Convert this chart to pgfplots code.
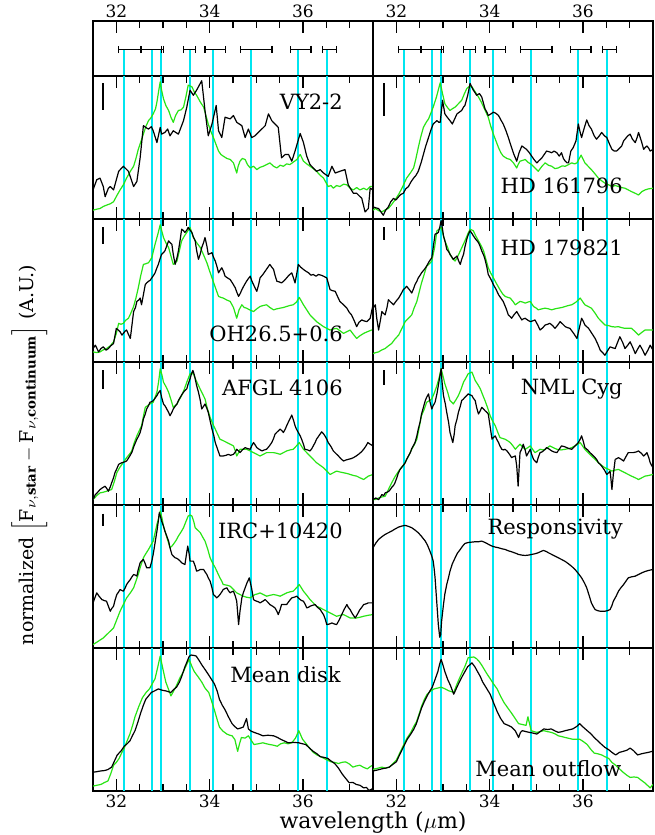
\documentclass[border=0pt]{standalone}
\usepackage{fontspec}
\setmainfont{DejaVu Serif}
\usepackage{pgfplots}
\pgfplotsset{compat=1.18}
\definecolor{cy}{RGB}{0,230,240}
\definecolor{gr}{RGB}{40,228,20}

\pgfplotsset{
  base/.style={scale only axis, width=140pt, xmin=31.5, xmax=37.5, ytick=\empty,
    xtick={32,34,36}, minor xtick={31.5,32,...,37.5}, tick align=inside,
    major tick length=6pt, minor tick length=3.5pt,
    tick style={black, line width=0.6pt}, axis line style={line width=0.9pt},
    anchor=south west, /pgf/number format/assume math mode=true,
    ticklabel style={font=\fontsize{8.5}{10}\selectfont, inner sep=1.5pt}},
  spec/.style={base, height=71.5pt, xtick pos=both,
    extra x ticks={32.17,32.77,32.96,33.58,34.08,34.88,35.90,36.51},
    extra x tick labels={},
    extra x tick style={grid=major, major grid style={cy, line width=1pt},
      major tick length=0pt, minor tick length=0pt}},
  nolab/.style={xticklabels={}},
  blk/.style={black, line width=0.6pt, line join=round},
  grn/.style={gr, line width=0.6pt, line join=round},
}
\tikzset{lab/.style={anchor=east, font=\fontsize{10.5}{12}\selectfont}}

\begin{document}
\begin{tikzpicture}
\path[use as bounding box] (-46.5pt,-22pt) rectangle (280.5pt,395.5pt);

% ---- top panels: bands
\foreach \cx in {0pt,140pt}{
\begin{axis}[base, height=27.5pt, at={(\cx,357.5pt)}, ymin=0, ymax=1,
    xtick pos=right, xticklabel pos=right]
  \addplot[cy, line width=1pt, ycomb, mark=none] coordinates {
    (32.17,0.48) (32.77,0.48) (32.96,0.48) (33.58,0.48) (34.08,0.48) (34.88,0.48) (35.90,0.48) (36.51,0.48)};
  \addplot[draw=none, mark=none, error bars/.cd, x dir=both, x explicit, error mark=|,
      error bar style={draw=black, line width=0.6pt},
      error mark options={draw=black, mark size=1.8pt, line width=0.6pt}]
    coordinates {
    (32.28,0.48) +- (0.23,0) (32.75,0.48) +- (0.22,0) (32.985,0.48) +- (0.02,0)
    (33.565,0.48) +- (0.125,0) (34.12,0.48) +- (0.22,0) (35.0,0.48) +- (0.335,0)
    (35.955,0.48) +- (0.215,0) (36.56,0.48) +- (0.15,0)};
\end{axis}
}

% ---- row 1
\begin{axis}[spec, nolab, at={(0,286pt)}, y dir=reverse, ymin=18, ymax=441]
  \addplot[grn] coordinates {(31.5,415) (31.58,412) (31.65,410) (31.72,404) (31.79,400) (31.87,396) (31.94,390) (32.01,372) (32.08,355) (32.15,340) (32.22,320) (32.3,300) (32.37,285) (32.42,262) (32.47,235) (32.52,215) (32.58,190) (32.64,165) (32.69,150) (32.74,142) (32.79,130) (32.84,115) (32.87,95) (32.91,60) (32.94,35) (32.97,60) (33.01,85) (33.06,105) (33.12,120) (33.17,140) (33.22,155) (33.27,135) (33.33,120) (33.39,118) (33.44,110) (33.49,80) (33.54,45) (33.62,50) (33.67,65) (33.72,75) (33.8,95) (33.87,110) (33.92,135) (33.97,160) (34.02,180) (34.08,200) (34.14,222) (34.19,240) (34.24,250) (34.29,255) (34.37,262) (34.44,265) (34.51,275) (34.58,305) (34.61,285) (34.65,270) (34.7,262) (34.76,265) (34.81,280) (34.87,290) (34.94,285) (35.01,295) (35.08,288) (35.15,285) (35.22,280) (35.29,275) (35.37,285) (35.44,290) (35.51,282) (35.58,285) (35.65,278) (35.72,280) (35.8,272) (35.87,265) (35.94,250) (36.01,270) (36.08,278) (36.15,285) (36.22,292) (36.29,300) (36.37,312) (36.44,320) (36.5,335) (36.54,345) (36.6,342) (36.65,350) (36.72,342) (36.79,345) (36.87,338) (36.94,340) (37.01,350) (37.08,355) (37.15,348) (37.22,355) (37.3,350) (37.37,355) (37.44,345) (37.5,345)};
  \addplot[blk] coordinates {(31.5,355) (31.58,325) (31.65,320) (31.72,345) (31.76,375) (31.83,350) (31.87,345) (31.94,355) (32.01,320) (32.05,300) (32.15,285) (32.26,300) (32.37,345) (32.44,330) (32.51,260) (32.58,165) (32.65,172) (32.69,175) (32.75,168) (32.79,180) (32.87,215) (32.94,170) (32.97,190) (33.04,185) (33.1,175) (33.15,195) (33.22,180) (33.33,190) (33.44,150) (33.51,110) (33.58,60) (33.65,75) (33.72,60) (33.83,32) (33.9,120) (33.97,195) (34.05,160) (34.14,105) (34.19,180) (34.26,200) (34.33,140) (34.44,145) (34.51,135) (34.58,155) (34.69,165) (34.76,200) (34.83,175) (34.9,200) (34.97,195) (35.08,180) (35.19,165) (35.26,130) (35.33,150) (35.4,160) (35.47,170) (35.54,260) (35.62,250) (35.69,250) (35.76,270) (35.83,240) (35.94,188) (36.01,215) (36.08,255) (36.15,280) (36.22,290) (36.29,300) (36.37,295) (36.44,305) (36.54,315) (36.62,285) (36.69,305) (36.79,300) (36.9,295) (36.97,340) (37.08,365) (37.15,365) (37.26,380) (37.33,420) (37.4,410) (37.44,350) (37.5,355)};
  \addplot[black, line width=1pt] coordinates {(31.72,40) (31.72,120)};
  \node[lab] at (axis description cs:0.917,0.82) {VY2-2};
\end{axis}

\begin{axis}[spec, nolab, at={(140pt,286pt)}, y dir=reverse, ymin=18, ymax=441]
  \addplot[grn] coordinates {(31.5,415) (31.55,410) (31.62,416) (31.69,420) (31.76,414) (31.83,410) (31.9,398) (31.97,385) (32.05,368) (32.12,350) (32.22,320) (32.3,305) (32.37,290) (32.42,262) (32.47,230) (32.52,200) (32.58,170) (32.64,155) (32.69,145) (32.74,128) (32.79,110) (32.86,80) (32.94,38) (32.99,70) (33.04,100) (33.1,112) (33.15,120) (33.2,115) (33.26,110) (33.33,100) (33.4,90) (33.46,70) (33.51,55) (33.57,48) (33.62,50) (33.69,65) (33.76,80) (33.82,95) (33.87,110) (33.92,125) (33.97,140) (34.02,165) (34.08,190) (34.14,212) (34.19,230) (34.24,245) (34.29,255) (34.37,262) (34.44,265) (34.51,275) (34.58,290) (34.61,280) (34.65,270) (34.7,268) (34.76,265) (34.83,274) (34.9,280) (34.97,290) (35.04,300) (35.12,285) (35.19,275) (35.26,282) (35.33,285) (35.4,292) (35.47,290) (35.55,284) (35.62,285) (35.69,280) (35.76,275) (35.82,278) (35.87,275) (35.96,252) (36.04,275) (36.11,285) (36.18,295) (36.26,308) (36.33,320) (36.4,328) (36.47,335) (36.55,340) (36.62,345) (36.69,342) (36.76,345) (36.83,348) (36.9,350) (36.97,355) (37.04,360) (37.12,365) (37.19,370) (37.26,360) (37.33,355) (37.4,352) (37.5,350)};
  \addplot[blk] coordinates {(31.5,405) (31.56,408) (31.62,410) (31.67,420) (31.72,430) (31.77,415) (31.83,405) (31.88,390) (31.94,380) (31.99,385) (32.05,375) (32.1,368) (32.15,365) (32.2,352) (32.26,345) (32.31,332) (32.37,320) (32.42,312) (32.47,300) (32.53,275) (32.58,250) (32.63,225) (32.69,200) (32.74,178) (32.79,160) (32.83,155) (32.87,150) (32.91,155) (32.94,155) (32.99,90) (33.04,130) (33.08,138) (33.12,145) (33.16,152) (33.2,160) (33.25,145) (33.3,130) (33.35,125) (33.4,120) (33.44,110) (33.47,105) (33.53,75) (33.58,40) (33.65,60) (33.69,68) (33.72,75) (33.78,70) (33.83,80) (33.87,100) (33.9,115) (33.94,125) (33.97,135) (34.03,130) (34.08,125) (34.13,128) (34.19,135) (34.24,148) (34.29,160) (34.35,180) (34.4,200) (34.47,230) (34.52,250) (34.58,270) (34.63,245) (34.69,225) (34.74,230) (34.79,235) (34.85,245) (34.9,255) (34.95,265) (35.01,275) (35.06,268) (35.12,260) (35.17,250) (35.22,240) (35.27,242) (35.33,245) (35.38,240) (35.44,245) (35.49,255) (35.54,245) (35.58,262) (35.62,270) (35.66,275) (35.69,275) (35.74,240) (35.79,230) (35.85,210) (35.9,160) (35.94,185) (35.97,200) (36.02,175) (36.08,148) (36.13,165) (36.18,175) (36.24,195) (36.29,205) (36.35,195) (36.4,185) (36.46,195) (36.51,200) (36.57,220) (36.62,235) (36.67,240) (36.72,240) (36.78,232) (36.83,225) (36.87,210) (36.9,205) (36.96,195) (37.01,190) (37.06,205) (37.12,215) (37.16,200) (37.19,185) (37.25,210) (37.3,235) (37.33,230) (37.37,225) (37.41,232) (37.44,240) (37.5,235)};
  \addplot[black, line width=1pt] coordinates {(31.745,40) (31.745,135)};
  \node[lab] at (axis description cs:0.917,0.23) {HD 161796};
\end{axis}

% ---- row 2
\begin{axis}[spec, nolab, at={(0,214.5pt)}, y dir=reverse, ymin=55, ymax=480]
  \addplot[grn] coordinates {(31.5,450) (31.58,452) (31.65,450) (31.72,444) (31.79,440) (31.87,432) (31.94,420) (32.0,395) (32.05,365) (32.1,368) (32.15,365) (32.2,356) (32.26,350) (32.31,335) (32.37,315) (32.42,290) (32.47,260) (32.52,225) (32.58,190) (32.63,188) (32.69,185) (32.76,170) (32.83,130) (32.89,100) (32.94,72) (33.01,110) (33.07,128) (33.12,140) (33.17,165) (33.22,190) (33.3,180) (33.35,150) (33.4,120) (33.46,105) (33.51,95) (33.58,80) (33.65,110) (33.72,125) (33.8,140) (33.87,162) (33.94,185) (34.0,210) (34.05,230) (34.12,258) (34.19,285) (34.24,288) (34.29,290) (34.37,296) (34.44,300) (34.51,318) (34.58,350) (34.63,325) (34.69,310) (34.74,318) (34.79,320) (34.87,326) (34.94,330) (35.01,322) (35.08,315) (35.15,312) (35.22,310) (35.29,318) (35.37,325) (35.44,322) (35.51,320) (35.58,318) (35.65,315) (35.72,312) (35.79,310) (35.86,302) (35.92,288) (36.01,310) (36.08,325) (36.15,340) (36.22,350) (36.29,360) (36.37,368) (36.44,375) (36.51,380) (36.58,385) (36.65,382) (36.72,380) (36.8,388) (36.87,395) (36.94,390) (37.01,385) (37.08,398) (37.15,410) (37.22,402) (37.3,395) (37.38,390) (37.47,385) (37.5,385)};
  \addplot[blk] coordinates {(31.5,440) (31.55,430) (31.62,450) (31.67,440) (31.72,435) (31.78,445) (31.83,440) (31.88,432) (31.94,425) (32.0,380) (32.04,385) (32.08,390) (32.12,400) (32.15,395) (32.19,388) (32.22,385) (32.26,398) (32.3,410) (32.37,330) (32.41,318) (32.44,300) (32.48,296) (32.51,290) (32.54,310) (32.58,280) (32.62,250) (32.65,245) (32.69,240) (32.72,238) (32.76,230) (32.8,222) (32.83,215) (32.87,200) (32.9,190) (32.94,172) (32.97,160) (33.01,155) (33.04,150) (33.08,135) (33.12,120) (33.15,125) (33.19,130) (33.22,160) (33.26,190) (33.3,170) (33.33,150) (33.37,115) (33.4,85) (33.44,90) (33.47,95) (33.51,88) (33.54,80) (33.58,88) (33.62,95) (33.65,108) (33.69,120) (33.72,148) (33.76,175) (33.8,158) (33.83,140) (33.87,125) (33.9,110) (33.94,135) (33.97,160) (34.01,158) (34.05,155) (34.08,168) (34.12,180) (34.16,198) (34.19,215) (34.22,208) (34.26,200) (34.3,212) (34.33,225) (34.38,230) (34.44,235) (34.5,248) (34.55,260) (34.58,272) (34.62,285) (34.66,275) (34.69,265) (34.74,252) (34.79,240) (34.83,232) (34.87,225) (34.9,238) (34.94,250) (34.98,262) (35.01,270) (35.05,250) (35.08,230) (35.14,220) (35.19,210) (35.24,200) (35.29,190) (35.33,198) (35.37,205) (35.4,222) (35.44,240) (35.49,242) (35.54,245) (35.6,238) (35.65,230) (35.7,222) (35.76,215) (35.8,232) (35.83,245) (35.87,215) (35.9,190) (35.95,198) (36.01,205) (36.06,210) (36.12,215) (36.17,222) (36.22,220) (36.28,225) (36.33,220) (36.39,222) (36.44,225) (36.48,228) (36.51,230) (36.55,250) (36.58,265) (36.63,268) (36.69,270) (36.74,285) (36.79,300) (36.87,310) (36.94,320) (36.99,332) (37.04,340) (37.1,358) (37.15,375) (37.2,362) (37.26,355) (37.31,358) (37.37,360) (37.44,350) (37.47,330) (37.5,310)};
  \addplot[black, line width=1pt] coordinates {(31.72,80) (31.72,130)};
  \node[lab] at (axis description cs:0.917,0.2) {OH26.5+0.6};
\end{axis}

\begin{axis}[spec, nolab, at={(140pt,214.5pt)}, y dir=reverse, ymin=55, ymax=480]
  \addplot[grn] coordinates {(31.5,455) (31.56,452) (31.62,450) (31.69,444) (31.76,440) (31.83,432) (31.9,425) (31.97,412) (32.05,400) (32.12,380) (32.19,360) (32.26,350) (32.33,340) (32.38,320) (32.44,300) (32.49,272) (32.54,245) (32.6,218) (32.65,195) (32.71,188) (32.76,180) (32.82,140) (32.87,90) (32.92,85) (32.96,80) (33.0,100) (33.04,120) (33.1,140) (33.15,160) (33.2,172) (33.26,180) (33.32,165) (33.37,150) (33.42,135) (33.47,120) (33.53,100) (33.58,85) (33.65,90) (33.7,105) (33.76,120) (33.82,135) (33.87,150) (33.92,175) (33.97,200) (34.02,215) (34.08,230) (34.15,248) (34.22,265) (34.28,278) (34.33,285) (34.39,288) (34.44,290) (34.5,300) (34.55,310) (34.6,305) (34.65,300) (34.71,302) (34.76,305) (34.82,302) (34.87,300) (34.94,315) (35.0,320) (35.04,325) (35.12,322) (35.19,320) (35.26,322) (35.33,325) (35.4,322) (35.47,320) (35.55,318) (35.62,315) (35.69,312) (35.76,310) (35.85,302) (35.94,290) (36.04,310) (36.11,315) (36.18,320) (36.26,335) (36.33,350) (36.4,360) (36.47,370) (36.55,372) (36.62,375) (36.69,376) (36.76,375) (36.83,378) (36.9,380) (36.97,380) (37.04,380) (37.12,390) (37.19,400) (37.26,392) (37.33,385) (37.41,385) (37.5,385)};
  \addplot[blk] coordinates {(31.5,320) (31.55,310) (31.58,350) (31.62,385) (31.66,355) (31.69,330) (31.72,335) (31.76,340) (31.8,318) (31.83,295) (31.88,302) (31.94,310) (31.99,300) (32.05,290) (32.1,278) (32.15,265) (32.19,260) (32.22,255) (32.28,265) (32.33,275) (32.37,262) (32.4,250) (32.44,240) (32.47,230) (32.51,222) (32.54,215) (32.6,205) (32.65,195) (32.7,182) (32.76,170) (32.8,130) (32.83,100) (32.87,98) (32.9,95) (32.93,80) (32.96,60) (32.99,85) (33.01,105) (33.05,125) (33.08,145) (33.12,152) (33.15,160) (33.19,168) (33.22,175) (33.26,170) (33.3,165) (33.33,178) (33.37,190) (33.4,175) (33.44,160) (33.47,138) (33.51,115) (33.54,102) (33.58,90) (33.62,98) (33.65,105) (33.7,115) (33.76,125) (33.8,138) (33.83,150) (33.87,162) (33.9,175) (33.94,198) (33.97,220) (34.03,235) (34.08,250) (34.14,265) (34.19,280) (34.24,290) (34.29,300) (34.35,320) (34.4,340) (34.44,345) (34.47,350) (34.52,340) (34.58,330) (34.63,342) (34.69,355) (34.72,352) (34.76,350) (34.81,355) (34.87,360) (34.92,358) (34.97,355) (35.03,370) (35.08,385) (35.14,378) (35.19,370) (35.24,368) (35.29,365) (35.35,372) (35.4,380) (35.46,370) (35.51,360) (35.57,368) (35.62,375) (35.67,378) (35.72,380) (35.8,395) (35.87,410) (35.92,380) (35.97,350) (36.01,360) (36.04,370) (36.08,375) (36.12,380) (36.19,395) (36.26,410) (36.32,428) (36.37,445) (36.42,452) (36.47,460) (36.52,448) (36.58,435) (36.64,438) (36.69,440) (36.74,422) (36.79,405) (36.85,422) (36.9,440) (36.96,430) (37.01,420) (37.07,438) (37.12,455) (37.17,442) (37.22,430) (37.28,445) (37.33,460) (37.39,445) (37.44,430) (37.5,445)};
  \addplot[black, line width=1pt] coordinates {(31.745,80) (31.745,118)};
  \node[lab] at (axis description cs:0.917,0.8) {HD 179821};
\end{axis}

% ---- row 3
\begin{axis}[spec, nolab, at={(0,143pt)}, y dir=reverse, ymin=60, ymax=486]
  \addplot[grn] coordinates {(31.5,470) (31.58,458) (31.65,450) (31.72,448) (31.79,445) (31.85,442) (31.9,440) (31.96,415) (32.01,390) (32.07,375) (32.12,365) (32.17,355) (32.22,345) (32.28,335) (32.33,325) (32.38,302) (32.44,280) (32.49,265) (32.54,250) (32.58,222) (32.62,195) (32.67,190) (32.72,185) (32.79,180) (32.83,165) (32.87,150) (32.91,115) (32.94,80) (32.98,100) (33.01,120) (33.07,135) (33.12,150) (33.17,172) (33.22,195) (33.26,190) (33.3,185) (33.35,172) (33.4,160) (33.46,140) (33.51,120) (33.58,95) (33.65,95) (33.7,112) (33.76,130) (33.83,150) (33.9,170) (33.95,198) (34.01,225) (34.06,242) (34.12,260) (34.17,275) (34.22,290) (34.3,295) (34.37,300) (34.44,305) (34.51,310) (34.55,325) (34.58,340) (34.62,330) (34.65,320) (34.72,320) (34.79,320) (34.87,325) (34.94,330) (35.01,335) (35.08,340) (35.15,335) (35.22,330) (35.3,330) (35.37,330) (35.44,332) (35.51,335) (35.58,330) (35.65,325) (35.72,322) (35.79,320) (35.86,310) (35.92,300) (36.01,320) (36.08,330) (36.15,340) (36.22,350) (36.29,360) (36.37,368) (36.44,375) (36.51,385) (36.58,395) (36.65,390) (36.72,385) (36.8,388) (36.87,390) (36.94,392) (37.01,395) (37.08,398) (37.15,400) (37.22,405) (37.3,410) (37.35,405) (37.4,400) (37.5,395)};
  \addplot[blk] coordinates {(31.5,470) (31.55,455) (31.6,448) (31.65,440) (31.7,435) (31.76,430) (31.8,438) (31.83,445) (31.87,432) (31.9,420) (31.94,405) (31.97,390) (32.01,378) (32.05,365) (32.09,362) (32.12,360) (32.17,358) (32.22,355) (32.28,342) (32.33,330) (32.38,310) (32.44,290) (32.48,280) (32.51,270) (32.55,250) (32.58,230) (32.62,215) (32.65,200) (32.69,190) (32.72,180) (32.76,178) (32.79,175) (32.83,168) (32.87,160) (32.9,152) (32.94,145) (32.97,165) (33.01,185) (33.05,192) (33.08,200) (33.12,210) (33.15,220) (33.19,210) (33.22,200) (33.26,192) (33.3,185) (33.33,175) (33.37,165) (33.4,158) (33.44,150) (33.47,145) (33.51,140) (33.54,125) (33.58,110) (33.61,95) (33.64,85) (33.67,98) (33.69,110) (33.72,130) (33.76,150) (33.8,175) (33.83,200) (33.87,192) (33.9,185) (33.94,198) (33.97,210) (34.01,235) (34.05,260) (34.09,280) (34.12,300) (34.17,320) (34.22,340) (34.26,340) (34.29,340) (34.35,338) (34.4,335) (34.45,338) (34.51,335) (34.55,328) (34.58,320) (34.62,325) (34.65,330) (34.7,322) (34.76,315) (34.81,318) (34.87,320) (34.9,310) (34.94,300) (34.98,308) (35.01,315) (35.06,320) (35.12,325) (35.17,322) (35.22,320) (35.28,310) (35.33,300) (35.37,288) (35.4,275) (35.45,268) (35.51,260) (35.55,265) (35.58,270) (35.62,260) (35.65,250) (35.7,235) (35.76,218) (35.8,235) (35.83,250) (35.86,260) (35.9,270) (35.94,280) (35.97,290) (36.01,305) (36.04,320) (36.1,322) (36.15,325) (36.19,318) (36.22,310) (36.26,300) (36.29,290) (36.35,278) (36.4,268) (36.44,274) (36.47,280) (36.51,290) (36.54,300) (36.6,312) (36.65,325) (36.7,332) (36.76,340) (36.81,348) (36.87,355) (36.92,352) (36.97,350) (37.03,348) (37.08,345) (37.14,340) (37.19,335) (37.25,328) (37.3,320) (37.35,310) (37.39,300) (37.44,305) (37.5,310)};
  \addplot[black, line width=1pt] coordinates {(31.72,85) (31.72,140)};
  \node[lab] at (axis description cs:0.917,0.82) {AFGL 4106};
\end{axis}

\begin{axis}[spec, nolab, at={(140pt,143pt)}, y dir=reverse, ymin=60, ymax=486]
  \addplot[grn] coordinates {(31.5,470) (31.55,470) (31.62,465) (31.69,462) (31.76,460) (31.83,440) (31.9,420) (31.97,402) (32.05,385) (32.12,372) (32.19,360) (32.26,340) (32.33,320) (32.39,305) (32.44,290) (32.49,255) (32.54,220) (32.6,200) (32.65,180) (32.71,175) (32.76,170) (32.82,150) (32.87,130) (32.92,105) (32.96,80) (33.0,102) (33.04,125) (33.1,150) (33.15,175) (33.19,180) (33.22,185) (33.28,172) (33.33,160) (33.39,140) (33.44,120) (33.49,108) (33.54,95) (33.62,90) (33.69,115) (33.75,128) (33.8,140) (33.85,158) (33.9,175) (33.96,198) (34.01,220) (34.06,235) (34.12,250) (34.17,268) (34.22,285) (34.28,288) (34.33,290) (34.39,295) (34.44,300) (34.5,310) (34.55,320) (34.6,312) (34.65,305) (34.7,312) (34.76,320) (34.82,315) (34.87,310) (34.92,320) (34.97,330) (35.03,325) (35.08,320) (35.14,322) (35.19,320) (35.24,315) (35.29,310) (35.36,315) (35.44,320) (35.53,322) (35.62,320) (35.69,318) (35.76,315) (35.85,308) (35.94,300) (36.04,320) (36.11,330) (36.18,340) (36.26,350) (36.33,360) (36.4,368) (36.47,375) (36.55,380) (36.62,385) (36.69,382) (36.76,380) (36.83,385) (36.9,390) (36.97,395) (37.04,400) (37.12,405) (37.19,410) (37.26,405) (37.33,400) (37.41,398) (37.5,395)};
  \addplot[blk] coordinates {(31.5,470) (31.56,465) (31.62,470) (31.66,462) (31.69,455) (31.73,458) (31.76,450) (31.8,448) (31.84,445) (31.87,440) (31.91,432) (31.94,428) (31.97,420) (32.01,405) (32.04,392) (32.08,380) (32.11,375) (32.15,368) (32.19,360) (32.22,350) (32.26,340) (32.3,330) (32.33,318) (32.37,308) (32.4,300) (32.44,280) (32.47,260) (32.51,238) (32.54,215) (32.58,195) (32.62,175) (32.65,165) (32.69,155) (32.72,178) (32.76,200) (32.79,190) (32.83,180) (32.87,155) (32.9,130) (32.93,105) (32.96,80) (32.98,120) (33.01,160) (33.05,185) (33.08,210) (33.12,240) (33.15,270) (33.18,285) (33.21,300) (33.24,275) (33.26,250) (33.3,230) (33.33,210) (33.37,192) (33.4,175) (33.44,170) (33.47,165) (33.51,160) (33.54,155) (33.58,158) (33.62,160) (33.65,168) (33.69,175) (33.72,195) (33.76,215) (33.8,205) (33.83,195) (33.87,200) (33.9,205) (33.94,210) (33.97,215) (34.01,252) (34.05,290) (34.08,285) (34.12,280) (34.15,290) (34.19,300) (34.22,310) (34.26,320) (34.3,322) (34.33,320) (34.37,325) (34.4,330) (34.44,338) (34.47,345) (34.51,342) (34.55,340) (34.58,370) (34.61,430) (34.63,380) (34.65,330) (34.69,318) (34.72,305) (34.76,322) (34.79,340) (34.83,330) (34.87,320) (34.9,335) (34.94,350) (34.97,355) (35.01,360) (35.04,345) (35.08,330) (35.12,328) (35.15,325) (35.19,320) (35.22,315) (35.28,320) (35.33,325) (35.38,328) (35.44,330) (35.49,320) (35.54,310) (35.6,312) (35.65,315) (35.7,318) (35.76,320) (35.83,310) (35.9,300) (35.94,290) (35.97,280) (36.01,298) (36.04,315) (36.1,322) (36.15,330) (36.21,338) (36.26,345) (36.3,352) (36.33,360) (36.37,365) (36.4,370) (36.46,382) (36.51,395) (36.55,390) (36.58,385) (36.6,410) (36.62,440) (36.65,395) (36.69,350) (36.72,348) (36.76,345) (36.82,350) (36.87,355) (36.92,342) (36.97,330) (37.03,330) (37.08,330) (37.14,328) (37.19,325) (37.25,332) (37.3,340) (37.34,335) (37.37,330) (37.41,345) (37.44,360) (37.47,368) (37.5,375)};
  \addplot[black, line width=1pt] coordinates {(31.745,85) (31.745,128)};
  \node[lab] at (axis description cs:0.917,0.81) {NML Cyg};
\end{axis}

% ---- row 4
\begin{axis}[spec, nolab, at={(0,71.5pt)}, y dir=reverse, ymin=82, ymax=510]
  \addplot[grn] coordinates {(31.5,500) (31.61,490) (31.72,480) (31.83,465) (31.94,450) (32.01,425) (32.08,400) (32.15,380) (32.22,360) (32.3,345) (32.37,330) (32.42,310) (32.47,290) (32.52,265) (32.58,240) (32.63,228) (32.69,215) (32.74,202) (32.79,190) (32.83,165) (32.87,140) (32.91,120) (32.94,100) (32.98,122) (33.01,145) (33.08,178) (33.15,210) (33.19,205) (33.22,200) (33.28,188) (33.33,175) (33.39,162) (33.44,150) (33.49,132) (33.54,115) (33.58,112) (33.62,115) (33.66,132) (33.69,150) (33.75,158) (33.8,165) (33.85,178) (33.9,190) (33.96,215) (34.01,240) (34.06,255) (34.12,270) (34.17,285) (34.22,300) (34.26,310) (34.29,320) (34.37,322) (34.44,325) (34.51,335) (34.58,345) (34.65,350) (34.72,355) (34.79,358) (34.87,360) (34.92,355) (34.97,350) (35.03,348) (35.08,345) (35.15,350) (35.22,355) (35.3,352) (35.37,350) (35.44,352) (35.51,355) (35.58,350) (35.65,345) (35.72,342) (35.79,340) (35.86,330) (35.92,320) (36.01,340) (36.08,352) (36.15,365) (36.22,375) (36.29,385) (36.37,390) (36.44,395) (36.51,400) (36.58,405) (36.65,410) (36.72,415) (36.8,412) (36.87,410) (36.94,415) (37.01,420) (37.08,420) (37.15,420) (37.22,418) (37.3,415) (37.4,412) (37.5,410)};
  \addplot[blk] coordinates {(31.5,375) (31.54,360) (31.58,345) (31.63,355) (31.69,365) (31.74,368) (31.79,370) (31.83,385) (31.87,400) (31.9,392) (31.94,385) (31.97,368) (32.01,350) (32.05,342) (32.08,335) (32.12,338) (32.15,340) (32.19,330) (32.22,320) (32.26,312) (32.3,305) (32.33,298) (32.37,290) (32.41,292) (32.44,295) (32.47,275) (32.51,255) (32.54,250) (32.58,245) (32.62,258) (32.65,270) (32.69,270) (32.72,270) (32.76,250) (32.79,230) (32.83,195) (32.87,160) (32.9,130) (32.92,105) (32.95,118) (32.97,130) (33.01,145) (33.04,160) (33.08,175) (33.12,190) (33.15,210) (33.19,230) (33.22,235) (33.26,240) (33.3,242) (33.33,245) (33.37,250) (33.4,255) (33.44,258) (33.47,260) (33.5,232) (33.53,205) (33.56,228) (33.58,250) (33.62,250) (33.65,250) (33.69,265) (33.72,280) (33.76,278) (33.8,275) (33.83,275) (33.87,275) (33.9,282) (33.94,290) (33.97,300) (34.01,310) (34.05,330) (34.08,350) (34.12,355) (34.15,360) (34.19,355) (34.22,350) (34.26,342) (34.29,335) (34.33,332) (34.37,330) (34.4,338) (34.44,345) (34.47,342) (34.51,340) (34.55,355) (34.58,370) (34.62,440) (34.65,400) (34.69,360) (34.72,345) (34.76,330) (34.8,315) (34.85,300) (34.9,332) (34.94,365) (34.97,368) (35.01,370) (35.05,372) (35.08,375) (35.14,370) (35.19,365) (35.24,372) (35.29,380) (35.35,385) (35.4,390) (35.44,400) (35.47,410) (35.51,395) (35.54,380) (35.6,380) (35.65,380) (35.7,370) (35.76,360) (35.81,358) (35.87,355) (35.9,360) (35.94,365) (35.97,368) (36.01,370) (36.05,380) (36.08,390) (36.12,388) (36.15,385) (36.21,382) (36.26,380) (36.31,388) (36.37,395) (36.4,402) (36.44,410) (36.48,425) (36.51,440) (36.57,438) (36.62,435) (36.67,438) (36.72,440) (36.78,425) (36.83,410) (36.88,395) (36.94,380) (36.97,388) (37.01,395) (37.06,408) (37.12,420) (37.17,408) (37.22,395) (37.26,388) (37.3,380) (37.35,378) (37.4,375) (37.45,375) (37.5,375)};
  \addplot[black, line width=1pt] coordinates {(31.72,108) (31.72,145)};
  \node[lab] at (axis description cs:0.917,0.82) {IRC+10420};
\end{axis}

\begin{axis}[spec, nolab, at={(140pt,71.5pt)}, y dir=reverse, ymin=82, ymax=510]
  \addplot[blk] coordinates {(31.5,210) (31.56,196) (31.62,185) (31.69,177) (31.76,170) (31.83,165) (31.9,160) (31.97,154) (32.05,148) (32.12,145) (32.19,143) (32.26,146) (32.33,150) (32.4,157) (32.47,165) (32.54,176) (32.62,190) (32.67,203) (32.72,220) (32.76,235) (32.79,250) (32.81,272) (32.83,300) (32.85,340) (32.87,380) (32.9,440) (32.93,478) (32.95,470) (32.97,430) (33.01,380) (33.04,348) (33.08,320) (33.12,298) (33.15,280) (33.2,258) (33.26,240) (33.31,226) (33.37,215) (33.42,205) (33.47,197) (33.55,194) (33.62,193) (33.69,192) (33.76,192) (33.83,190) (33.88,193) (33.94,197) (33.99,201) (34.05,205) (34.12,208) (34.19,210) (34.26,213) (34.33,215) (34.4,219) (34.47,222) (34.55,226) (34.62,230) (34.69,232) (34.76,233) (34.83,232) (34.9,230) (34.97,228) (35.04,225) (35.1,221) (35.15,218) (35.21,221) (35.26,225) (35.33,230) (35.4,235) (35.47,240) (35.54,245) (35.62,251) (35.69,258) (35.76,266) (35.83,275) (35.9,287) (35.97,300) (36.03,315) (36.08,330) (36.13,352) (36.18,375) (36.22,386) (36.26,395) (36.31,398) (36.37,400) (36.42,400) (36.47,400) (36.53,398) (36.58,395) (36.62,383) (36.65,370) (36.71,355) (36.76,340) (36.81,330) (36.87,320) (36.92,310) (36.97,300) (37.04,297) (37.12,295) (37.19,290) (37.26,285) (37.33,281) (37.4,278) (37.5,275)};
  \node[lab] at (axis description cs:0.917,0.83) {Responsivity};
\end{axis}

% ---- row 5 (bottom)
\begin{axis}[spec, at={(0,0pt)}, ymin=0, ymax=1]
  \addplot[grn] coordinates {(31.5,0.034) (31.58,0.04) (31.67,0.046) (31.75,0.06) (31.82,0.07) (31.88,0.12) (31.94,0.18) (32.0,0.2) (32.06,0.228) (32.12,0.27) (32.17,0.3) (32.23,0.35) (32.29,0.398) (32.35,0.46) (32.4,0.519) (32.48,0.59) (32.56,0.653) (32.64,0.69) (32.71,0.714) (32.77,0.75) (32.83,0.786) (32.89,0.87) (32.94,0.944) (33.0,0.85) (33.06,0.762) (33.12,0.71) (33.17,0.665) (33.23,0.7) (33.29,0.738) (33.36,0.79) (33.44,0.835) (33.5,0.88) (33.56,0.92) (33.62,0.87) (33.67,0.835) (33.75,0.8) (33.83,0.762) (33.9,0.72) (33.98,0.689) (34.04,0.63) (34.1,0.568) (34.16,0.5) (34.21,0.447) (34.28,0.42) (34.37,0.398) (34.43,0.39) (34.48,0.386) (34.54,0.36) (34.6,0.277) (34.64,0.33) (34.68,0.374) (34.76,0.37) (34.83,0.386) (34.9,0.35) (34.95,0.325) (35.04,0.33) (35.14,0.337) (35.22,0.33) (35.29,0.325) (35.37,0.32) (35.45,0.313) (35.52,0.33) (35.6,0.337) (35.68,0.33) (35.76,0.337) (35.84,0.37) (35.91,0.422) (35.99,0.362) (36.07,0.33) (36.14,0.3) (36.22,0.27) (36.3,0.252) (36.38,0.24) (36.45,0.228) (36.53,0.215) (36.6,0.204) (36.68,0.2) (36.76,0.192) (36.83,0.2) (36.91,0.204) (36.99,0.19) (37.07,0.167) (37.14,0.175) (37.22,0.18) (37.3,0.165) (37.38,0.155) (37.44,0.17) (37.49,0.18) (37.5,0.18)};
  \addplot[blk] coordinates {(31.5,0.131) (31.58,0.135) (31.66,0.14) (31.75,0.143) (31.82,0.15) (31.9,0.167) (31.96,0.21) (32.02,0.252) (32.1,0.28) (32.17,0.313) (32.23,0.33) (32.29,0.35) (32.35,0.39) (32.4,0.422) (32.46,0.48) (32.52,0.544) (32.58,0.6) (32.63,0.641) (32.69,0.665) (32.75,0.689) (32.82,0.7) (32.9,0.714) (32.98,0.705) (33.06,0.7) (33.11,0.695) (33.17,0.689) (33.23,0.71) (33.29,0.726) (33.35,0.76) (33.4,0.8) (33.46,0.86) (33.52,0.908) (33.56,0.94) (33.6,0.951) (33.66,0.948) (33.71,0.944) (33.77,0.915) (33.83,0.883) (33.9,0.85) (33.98,0.811) (34.04,0.78) (34.1,0.75) (34.16,0.7) (34.21,0.641) (34.27,0.6) (34.33,0.568) (34.4,0.52) (34.48,0.471) (34.54,0.45) (34.6,0.434) (34.66,0.44) (34.72,0.447) (34.79,0.507) (34.83,0.434) (34.88,0.42) (34.95,0.41) (35.04,0.4) (35.14,0.386) (35.25,0.39) (35.37,0.386) (35.45,0.375) (35.52,0.362) (35.6,0.35) (35.68,0.337) (35.8,0.34) (35.91,0.337) (35.99,0.33) (36.06,0.325) (36.14,0.3) (36.22,0.277) (36.3,0.26) (36.37,0.24) (36.45,0.235) (36.53,0.228) (36.6,0.21) (36.68,0.192) (36.76,0.16) (36.84,0.119) (36.91,0.09) (36.99,0.058) (37.07,0.06) (37.14,0.046) (37.22,0.04) (37.3,0.022) (37.36,0.025) (37.41,0.005) (37.46,0.01) (37.5,0.02)};
  \node[lab] at (axis description cs:0.91,0.81) {Mean disk};
\end{axis}

\begin{axis}[spec, at={(140pt,0pt)}, ymin=0, ymax=1]
  \addplot[grn] coordinates {(31.5,0.15) (31.54,0.155) (31.61,0.16) (31.69,0.167) (31.77,0.16) (31.85,0.167) (31.92,0.19) (32.0,0.216) (32.08,0.27) (32.16,0.325) (32.23,0.37) (32.31,0.41) (32.37,0.45) (32.43,0.483) (32.49,0.54) (32.54,0.592) (32.6,0.64) (32.66,0.677) (32.74,0.7) (32.81,0.714) (32.89,0.72) (32.96,0.726) (33.04,0.715) (33.12,0.701) (33.18,0.695) (33.23,0.689) (33.29,0.74) (33.35,0.786) (33.41,0.83) (33.47,0.871) (33.54,0.932) (33.6,0.935) (33.66,0.937) (33.72,0.925) (33.77,0.908) (33.83,0.88) (33.89,0.847) (33.95,0.815) (34.01,0.786) (34.08,0.75) (34.16,0.714) (34.23,0.665) (34.31,0.617) (34.39,0.58) (34.47,0.544) (34.54,0.51) (34.62,0.471) (34.7,0.465) (34.78,0.459) (34.82,0.519) (34.89,0.422) (34.95,0.415) (35.01,0.41) (35.08,0.415) (35.16,0.422) (35.24,0.415) (35.32,0.41) (35.4,0.4) (35.47,0.386) (35.55,0.38) (35.62,0.374) (35.7,0.368) (35.78,0.362) (35.86,0.362) (35.93,0.362) (36.01,0.345) (36.09,0.325) (36.17,0.29) (36.24,0.265) (36.32,0.26) (36.4,0.252) (36.47,0.24) (36.55,0.228) (36.62,0.2) (36.7,0.18) (36.78,0.155) (36.86,0.131) (36.94,0.11) (37.01,0.095) (37.09,0.098) (37.17,0.095) (37.25,0.075) (37.32,0.058) (37.38,0.04) (37.44,0.022) (37.5,0.046)};
  \addplot[blk] coordinates {(31.5,0.14) (31.54,0.143) (31.61,0.148) (31.69,0.155) (31.77,0.16) (31.85,0.167) (31.92,0.185) (32.0,0.204) (32.08,0.26) (32.16,0.313) (32.23,0.36) (32.31,0.398) (32.37,0.43) (32.43,0.471) (32.49,0.53) (32.54,0.58) (32.6,0.625) (32.66,0.665) (32.72,0.7) (32.77,0.726) (32.83,0.78) (32.89,0.835) (32.93,0.89) (32.96,0.92) (33.0,0.88) (33.04,0.835) (33.1,0.78) (33.16,0.738) (33.23,0.677) (33.29,0.72) (33.35,0.762) (33.41,0.8) (33.47,0.835) (33.53,0.87) (33.58,0.883) (33.62,0.896) (33.68,0.87) (33.74,0.835) (33.8,0.8) (33.85,0.762) (33.93,0.72) (34.01,0.677) (34.08,0.62) (34.16,0.556) (34.23,0.51) (34.31,0.471) (34.39,0.46) (34.47,0.447) (34.55,0.42) (34.62,0.374) (34.66,0.41) (34.7,0.422) (34.78,0.415) (34.85,0.41) (34.93,0.405) (35.01,0.398) (35.08,0.415) (35.16,0.434) (35.24,0.43) (35.32,0.434) (35.4,0.42) (35.47,0.41) (35.55,0.415) (35.62,0.422) (35.7,0.428) (35.78,0.434) (35.86,0.45) (35.93,0.471) (36.01,0.445) (36.09,0.422) (36.17,0.4) (36.24,0.374) (36.32,0.35) (36.4,0.325) (36.47,0.305) (36.55,0.289) (36.62,0.27) (36.7,0.252) (36.78,0.27) (36.86,0.277) (36.94,0.285) (37.01,0.3) (37.09,0.28) (37.17,0.252) (37.25,0.26) (37.32,0.265) (37.4,0.27) (37.48,0.277) (37.5,0.28)};
  \node[lab] at (axis description cs:0.912,0.155) {Mean outflow};
\end{axis}

\node[anchor=base, inner sep=0pt, font=\fontsize{11}{12}\selectfont] at (140pt,-19pt) {wavelength ($\mu$m)};
\node[rotate=90, inner sep=0pt, font=\fontsize{9.5}{11}\selectfont] at (-32pt,168pt)
  {normalized $\Big[\mathrm{F}_{\nu,\mathbf{star}} - \mathrm{F}_{\nu,\mathbf{continuum}}\Big]$ (A.U.)};
\end{tikzpicture}
\end{document}
